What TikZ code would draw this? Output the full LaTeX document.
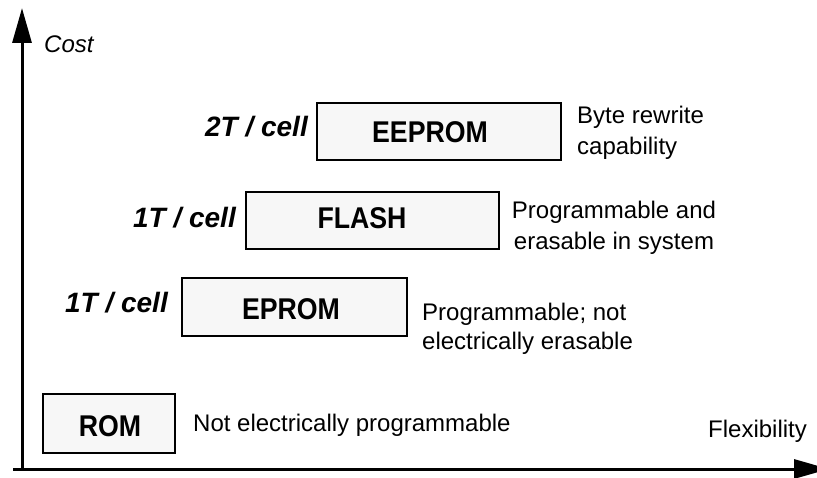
\documentclass[tikz,border=0pt]{standalone}
\usepackage{fontspec}
\setmainfont{Liberation Sans}
\newfontfamily\memfont[FakeStretch=0.89]{Liberation Sans}
\usetikzlibrary{arrows.meta}
\begin{document}
\begin{tikzpicture}[x=1pt,y=-1pt,
  axis/.style={line width=3pt,-{Triangle[length=35pt,width=19pt]}},
  membox/.style={draw,line width=2.5pt,fill=black!3,inner sep=0pt},
  memname/.style={inner sep=0pt,anchor=base,font=\memfont\bfseries\fontsize{30}{30}\selectfont},
  celltag/.style={inner sep=0pt,anchor=base east,font=\bfseries\itshape\fontsize{28}{28}\selectfont},
  note/.style={inner sep=0pt,anchor=base west,align=left,font=\fontsize{24}{31}\selectfont},
  axislabel/.style={inner sep=0pt,anchor=base west,font=\fontsize{24}{24}\selectfont}]
\useasboundingbox (0,0) rectangle (817,478);
\clip (0,0) rectangle (817,478);

% axes
\coordinate (origin) at (22,469);
\coordinate (xstart) at (13,469);
\coordinate (ytip) at (22,8);
\coordinate (xtip) at (829,469);
\draw[axis] (origin) -- (ytip);
\draw[axis] (xstart) -- (xtip);
\node[axislabel,font=\itshape\fontsize{24}{24}\selectfont] (cost) at (44,53) {Cost};
\node[axislabel] (flex) at (708,437) {Flexibility};

% memory types (multi-line notes are placed by the baseline of their last line)
\node[membox,minimum width=244pt,minimum height=57pt] (eeprom) at (439,131.5) {};
\node[memname] (eepromtxt) at (430,143) {EEPROM};
\node[celltag] (eepromcell) at (308,137) {2T / cell};
\node[note] (eepromnote) at (577,155) {Byte rewrite\\capability};

\node[membox,minimum width=253pt,minimum height=57pt] (flash) at (372.5,220.5) {};
\node[memname] (flashtxt) at (362,229) {FLASH};
\node[celltag] (flashcell) at (236,228) {1T / cell};
\node[note,align=center,anchor=base] (flashnote) at (614,250) {Programmable and\\erasable in system};

\node[membox,minimum width=225pt,minimum height=58pt] (eprom) at (294.5,307) {};
\node[memname] (epromtxt) at (291,320) {EPROM};
\node[celltag] (epromcell) at (168,313) {1T / cell};
\node[note,font=\fontsize{24}{29}\selectfont] (epromnote) at (422,350) {Programmable; not\\electrically erasable};

\node[membox,minimum width=132pt,minimum height=59pt] (rom) at (109,423.5) {};
\node[memname] (romtxt) at (110,436) {ROM};
\node[note] (romnote) at (193,431.5) {Not electrically programmable};
\end{tikzpicture}
\end{document}
